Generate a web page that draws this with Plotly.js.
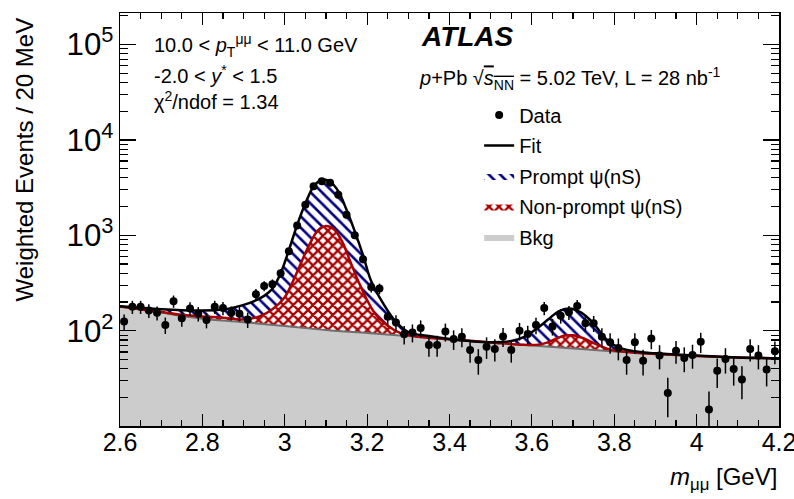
<!DOCTYPE html>
<html>
<head>
<meta charset="utf-8">
<script src="https://cdn.plot.ly/plotly-3.0.1.min.js"></script>
<style>html,body{margin:0;padding:0;background:#fff;}#chart{width:794px;height:499px;}</style>
</head>
<body>
<div id="chart"></div>
<script>
// Bin centres (20 MeV bins)
const massBins = [2.61,2.63,2.65,2.67,2.69,2.71,2.73,2.75,2.77,2.79,2.81,2.83,2.85,2.87,2.89,2.91,2.93,2.95,2.97,2.99,
  3.01,3.03,3.05,3.07,3.09,3.11,3.13,3.15,3.17,3.19,3.21,3.23,3.25,3.27,3.29,3.31,3.33,3.35,3.37,3.39,
  3.41,3.43,3.45,3.47,3.49,3.51,3.53,3.55,3.57,3.59,3.61,3.63,3.65,3.67,3.69,3.71,3.73,3.75,3.77,3.79,
  3.81,3.83,3.85,3.87,3.89,3.91,3.93,3.95,3.97,3.99,4.01,4.03,4.05,4.07,4.09,4.11,4.13,4.15,4.17,4.19];
// Weighted events per bin
const dataY = [125,178,178,163,154,115,204,135,171,151,130,178,173,154,151,131,242,295,308,401,
  681,1271,2094,3273,3690,3548,2661,1644,1000,561,288,277,140,122,92,96,107,71,71,98,
  82,86.5,62.8,49.4,68,64.4,87.3,63,100,92.5,114.7,173,111,143.6,156,182,120,120,86.5,75.7,
  66,49.4,75.7,48.6,83,55,22.3,61.7,51.9,55.7,76.8,15,38.2,50.6,39.8,30.8,64.4,55,39.2,61];
const dataErr = [23.5,28,28,27,26,22.5,30,24.5,27.5,26,24,28,27.5,26,26,24,32.5,36,37,42,
  55,75,96,120,128,125,108,85,66,50,36,35,25,23,20,20.5,21.5,17.5,17.5,21,
  19,19.5,16.6,14.8,17.3,16.9,19.6,16.7,21,20.2,22.5,27.6,22,25,26,28,23,23,19.5,18.3,
  17,14.8,18.3,14.6,19,15.6,9.9,16.5,15.1,15.7,18.4,8.1,13,15,13.2,11.7,16.9,15.6,13.1,16.4];

// Background component of the fit
const bkgMass  = [2.60,2.65,2.70,2.75,2.80,2.90,3.00,3.10,3.20,3.30,3.40,3.50,3.60,3.70,3.80,3.90,4.00,4.10,4.20];
const bkgCurve = [180,167,155,142.5,134,123,112,101.6,94.6,88,81,75.3,70,65.2,60.7,57.1,54.4,52.5,51.3];

// Background + non-prompt psi(nS)
const npMass  = [2.60,2.65,2.70,2.75,2.80,2.85,2.90,2.94,2.97,3.00,3.02,3.04,3.06,3.08,3.10,3.12,3.14,3.16,3.18,3.20,3.22,3.25,3.28,3.32,3.40,3.50,3.58,3.62,3.64,3.66,3.68,3.70,3.72,3.74,3.76,3.78,3.80,3.85,3.90,4.00,4.10,4.20];
const npCurve = [180,168,157,147,141,137,131,142,168,225,330,520,800,1120,1250,1150,850,520,320,210,150,113,95,87,81.5,75.5,71.2,72,76,83,89,89.5,85,78,71,65.5,62,59,57.2,54.5,52.5,51.3];

// Total fit (bkg + non-prompt + prompt)
const fitMass  = [2.60,2.65,2.70,2.75,2.80,2.85,2.88,2.92,2.95,2.97,2.99,3.01,3.03,3.05,3.07,3.09,3.11,3.13,3.15,3.17,3.19,3.21,3.24,3.27,3.30,3.35,3.40,3.45,3.50,3.55,3.58,3.61,3.64,3.665,3.69,3.72,3.75,3.78,3.81,3.85,3.90,4.00,4.10,4.20];
const fitTotal = [181,174,168,164,163,167,177,200,232,275,400,700,1280,2150,3250,3830,3640,2900,1850,1100,620,330,190,124,97,88,82,78,76,78,86,104,132,160,171,155,119,82,67,61,58,55,52.5,51.5];

const xTickVals = [2.6,2.8,3.0,3.2,3.4,3.6,3.8,4.0,4.2];

const FONT = 'Liberation Sans, Arial, Helvetica, sans-serif';

const traces = [
  {x: bkgMass, y: bkgCurve, type: 'scatter', mode: 'lines', fill: 'tozeroy',
   fillcolor: '#cccccc', line: {width: 0, shape: 'spline'}, name: 'Bkg', legendrank: 5, legendgroup: 'g5', hoverinfo: 'skip'},
  {x: npMass, y: npCurve, type: 'scatter', mode: 'lines', fill: 'tonexty',
   fillcolor: 'white',
   fillpattern: {shape: 'x', fgcolor: '#aa0000', bgcolor: 'white', size: 7, solidity: 0.55},
   line: {width: 0, shape: 'spline'}, name: 'Non-prompt \u03c8(nS)', legendrank: 4, legendgroup: 'g4', hoverinfo: 'skip'},
  {x: fitMass, y: fitTotal, type: 'scatter', mode: 'lines', fill: 'tonexty',
   fillcolor: 'white',
   fillpattern: {shape: '\\', fgcolor: '#00007f', bgcolor: 'white', size: 8, solidity: 0.33},
   line: {width: 0, shape: 'spline'}, name: 'Prompt \u03c8(nS)', legendrank: 3, legendgroup: 'g3', hoverinfo: 'skip'},
  {x: bkgMass, y: bkgCurve, type: 'scatter', mode: 'lines',
   line: {width: 2, color: '#6e6e6e', shape: 'spline'}, showlegend: false, hoverinfo: 'skip'},
  {x: npMass, y: npCurve, type: 'scatter', mode: 'lines',
   line: {width: 2.5, color: '#aa0000', shape: 'spline'}, showlegend: false, hoverinfo: 'skip'},
  {x: fitMass, y: fitTotal, type: 'scatter', mode: 'lines',
   line: {width: 2.5, color: 'black', shape: 'spline'}, name: 'Fit', legendrank: 2, legendgroup: 'g2'},
  {x: massBins, y: dataY, type: 'scatter', mode: 'markers', name: 'Data', legendrank: 1, legendgroup: 'g1',
   marker: {color: 'black', size: 8},
   error_y: {type: 'data', array: dataErr, color: 'black', thickness: 1.5, width: 0}}
];

const layout = {
  width: 794, height: 499,
  margin: {l: 120, r: 15, t: 13, b: 73},
  paper_bgcolor: 'white', plot_bgcolor: 'white',
  font: {family: FONT, color: 'black'},
  showlegend: true,
  legend: {x: 0.545, y: 0.80, xanchor: 'left', yanchor: 'top', bgcolor: 'rgba(0,0,0,0)',
           font: {family: FONT, size: 20}, traceorder: 'grouped', tracegroupgap: 1.5, itemwidth: 30},
  xaxis: {range: [2.6, 4.2], tickvals: xTickVals, ticks: 'inside', ticklen: 12, tickwidth: 1.2,
          tickcolor: 'black', showline: true, linecolor: 'black', linewidth: 1.5, mirror: 'ticks',
          showgrid: false, zeroline: false, tickfont: {family: FONT, size: 25},
          ticklabeloverflow: 'allow', ticklabelstandoff: -7,
          minor: {dtick: 0.05, tick0: 2.6, ticks: 'inside', ticklen: 6, tickwidth: 1.2, tickcolor: 'black', showgrid: false}},
  yaxis: {type: 'log', range: [1.002, 5.33], dtick: 1, exponentformat: 'power',
          ticks: 'inside', ticklen: 16, tickwidth: 1.2, tickcolor: 'black',
          showline: true, linecolor: 'black', linewidth: 1.5, mirror: 'ticks',
          showgrid: false, zeroline: false, tickfont: {family: FONT, size: 25},
          minor: {dtick: 'D1', ticks: 'inside', ticklen: 8, tickwidth: 1.2, tickcolor: 'black', showgrid: false}},
  annotations: [
    {text: '10.0 &lt; <i>p</i><sub>T</sub><sup>\u03bc\u03bc</sup> &lt; 11.0 GeV', xref: 'paper', yref: 'paper',
     x: 0.0486, y: 0.9225, xanchor: 'left', yanchor: 'middle', showarrow: false, font: {family: FONT, size: 20}},
    {text: '-2.0 &lt; <i>y</i><sup>*</sup> &lt; 1.5', xref: 'paper', yref: 'paper',
     x: 0.0486, y: 0.852, xanchor: 'left', yanchor: 'middle', showarrow: false, font: {family: FONT, size: 20}},
    {text: '\u03c7<sup>2</sup>/ndof = 1.34', xref: 'paper', yref: 'paper',
     x: 0.0486, y: 0.789, xanchor: 'left', yanchor: 'middle', showarrow: false, font: {family: FONT, size: 20}},
    {text: '<b><i>ATLAS</i></b>', xref: 'paper', yref: 'paper',
     x: 0.453, y: 0.942, xanchor: 'left', yanchor: 'middle', showarrow: false, font: {family: FONT, size: 28}},
    {text: '<i>p</i>+Pb \u221a<span style="text-decoration:overline"><i>s</i><sub>NN</sub></span> = 5.02 TeV, L = 28 nb<sup>-1</sup>',
     xref: 'paper', yref: 'paper',
     x: 0.4507, y: 0.8426, xanchor: 'left', yanchor: 'middle', showarrow: false, font: {family: FONT, size: 20}},
    {text: 'Weighted Events / 20 MeV', xref: 'paper', yref: 'paper', textangle: -90,
     x: -0.145, y: 0.995, xanchor: 'center', yanchor: 'top', showarrow: false, font: {family: FONT, size: 24}},
    {text: '<i>m</i><sub>\u03bc\u03bc</sub> [GeV]', xref: 'paper', yref: 'paper',
     x: 1.0, y: -0.126, xanchor: 'right', yanchor: 'middle', showarrow: false, font: {family: FONT, size: 24}}
  ]
};

Plotly.newPlot('chart', traces, layout, {displayModeBar: false, staticPlot: true});
</script>
</body>
</html>
